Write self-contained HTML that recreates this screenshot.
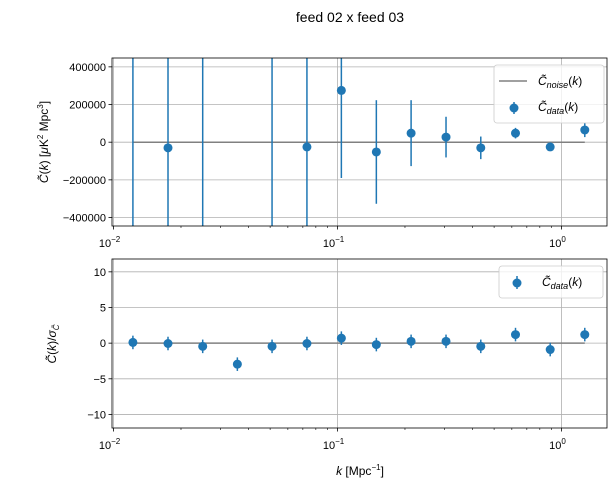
<!DOCTYPE html>
<html><head><meta charset="utf-8"><style>
html,body{margin:0;background:#fff;width:616px;height:493px;overflow:hidden}
svg{display:block;font-family:"Liberation Sans","DejaVu Sans",sans-serif}
</style></head><body>
<svg id="fig" width="616" height="493" viewBox="0 0 616 493" xmlns="http://www.w3.org/2000/svg">
<text x="350" y="22" font-size="14" text-anchor="middle">feed 02 x feed 03</text>
<g id="topPanel"></g>
<g id="botPanel"></g>
<text transform="translate(48,142) rotate(-90)" font-size="12" text-anchor="middle"><tspan font-style="italic">C̃</tspan>(<tspan font-style="italic">k</tspan>) [<tspan font-style="italic">μ</tspan>K<tspan font-size="8" dy="-5">2</tspan><tspan dy="5"> Mpc</tspan><tspan font-size="8" dy="-5">3</tspan><tspan dy="5">]</tspan></text>
<text transform="translate(56,344) rotate(-90)" font-size="12" text-anchor="middle"><tspan font-style="italic">C̃</tspan>(<tspan font-style="italic">k</tspan>)/<tspan font-style="italic">σ</tspan><tspan font-size="8" dy="3" font-style="italic">C̃</tspan></text>
<text x="360" y="475" font-size="12" text-anchor="middle"><tspan font-style="italic">k</tspan> [Mpc<tspan font-size="8" dy="-5">−1</tspan><tspan dy="5">]</tspan></text>
</svg>
<script>
const kVals=[0.0122,0.0175,0.025,0.0357,0.051,0.073,0.104,0.149,0.213,0.305,0.436,0.623,0.89,1.27];
const topVals=[1500000,-30000,1500000,2000000,1500000,-25000,275000,-52000,48000,27000,-30000,48000,-25000,65000];
const topErr=[5000000,5000000,5000000,100000,5000000,5000000,465000,275000,175000,108000,60000,28000,8000,38000];
const botVals=[0.1,-0.05,-0.45,-2.95,-0.45,-0.05,0.7,-0.2,0.25,0.25,-0.45,1.2,-0.9,1.2];
const botErr=[0.95,0.95,0.95,0.95,0.95,0.95,0.95,0.95,0.95,0.95,0.95,0.95,0.95,0.95];
const topTicks=[400000,200000,0,-200000,-400000];
const botTicks=[10,5,0,-5,-10];
const NS="http://www.w3.org/2000/svg";
const X0=112,X1=607,LMIN=-2.007,LMAX=0.203;
const xs=k=>X0+(Math.log10(k)-LMIN)/(LMAX-LMIN)*(X1-X0);
function mk(p,t,a){const e=document.createElementNS(NS,t);for(const k in a)e.setAttribute(k,a[k]);p.appendChild(e);return e;}
function panel(g,Y0,Y1,ymin,ymax,vals,errs,ticks,noise,pfx){
 const ys=v=>Y1-(v-ymin)/(ymax-ymin)*(Y1-Y0);
 const cp=mk(g,'clipPath',{id:pfx+'clip'});mk(cp,'rect',{x:X0,y:Y0,width:X1-X0,height:Y1-Y0});
 ticks.forEach(t=>{const l=mk(g,'line',{x1:X0,x2:X1,y1:ys(t),y2:ys(t),stroke:'#b0b0b0','stroke-width':0.8});
 
 
 mk(g,'line',{x1:X0-3.5,x2:X0,y1:ys(t),y2:ys(t),stroke:'#000','stroke-width':0.8});
 const tx=mk(g,'text',{x:X0-6,y:ys(t)+4,'font-size':11,'text-anchor':'end'});tx.textContent=String(t).replace('-','−');
 
 });
 [-2,-1,0].forEach(d=>{const x=xs(Math.pow(10,d));mk(g,'line',{x1:x,x2:x,y1:Y0,y2:Y1,stroke:'#b0b0b0','stroke-width':0.8});
  mk(g,'line',{x1:x,x2:x,y1:Y1,y2:Y1+3.5,stroke:'#000','stroke-width':0.8});
  const tx=mk(g,'text',{x:x-4,y:Y1+21,'font-size':11,'text-anchor':'middle'});tx.innerHTML='10<tspan font-size="8" dy="-5">'+(d<0?'−'+(-d):'0')+'</tspan>';
  
  });
 for(let d=-3;d<=0;d++)for(let m=2;m<10;m++){const x=xs(m*Math.pow(10,d));if(x>X0&&x<X1)mk(g,'line',{x1:x,x2:x,y1:Y1,y2:Y1+2,stroke:'#000','stroke-width':0.6});}
 const n=mk(g,'line',{x1:xs(kVals[0]),x2:xs(kVals[kVals.length-1]),y1:ys(0),y2:ys(0),stroke:'#808080','stroke-width':1.5});
 
 
 const dg=mk(g,'g',{'clip-path':'url(#'+pfx+'clip)'});
 kVals.forEach((k,i)=>{const x=xs(k);
  const eb=mk(dg,'line',{x1:x,x2:x,y1:ys(vals[i]+errs[i]),y2:ys(vals[i]-errs[i]),stroke:'#1f77b4','stroke-width':1.5});
  
  
  const c=mk(dg,'circle',{cx:x,cy:ys(vals[i]),r:4.5,fill:'#1f77b4'});
  
  });
 mk(g,'rect',{x:X0,y:Y0,width:X1-X0,height:Y1-Y0,fill:'none',stroke:'#000','stroke-width':0.8});
}
const topG=document.getElementById('topPanel'),botG=document.getElementById('botPanel');
panel(topG,58,226,-445000,447000,topVals,topErr,topTicks,true,'t');
panel(botG,259,428,-11.9,11.8,botVals,botErr,botTicks,false,'b');
const l1=mk(topG,'g',{});


mk(l1,'rect',{x:494,y:65,width:110,height:58,rx:3,fill:'#fff','fill-opacity':0.8,stroke:'#ccc','stroke-width':0.8});
mk(l1,'line',{x1:499,x2:527,y1:81,y2:81,stroke:'#808080','stroke-width':1.5});
mk(l1,'text',{x:538,y:85,'font-size':12}).innerHTML='<tspan font-style="italic">C̃</tspan><tspan font-size="9" dy="3" font-style="italic">noise</tspan><tspan dy="-3">(</tspan><tspan font-style="italic">k</tspan>)';
mk(l1,'line',{x1:514,x2:514,y1:102,y2:114,stroke:'#1f77b4','stroke-width':1.5});
mk(l1,'circle',{cx:514,cy:108,r:4.5,fill:'#1f77b4'});
mk(l1,'text',{x:538,y:111,'font-size':12}).innerHTML='<tspan font-style="italic">C̃</tspan><tspan font-size="9" dy="3" font-style="italic">data</tspan><tspan dy="-3">(</tspan><tspan font-style="italic">k</tspan>)';
const l2=mk(botG,'g',{});


mk(l2,'rect',{x:499,y:266,width:104,height:32,rx:3,fill:'#fff','fill-opacity':0.8,stroke:'#ccc','stroke-width':0.8});
mk(l2,'line',{x1:517,x2:517,y1:276,y2:289,stroke:'#1f77b4','stroke-width':1.5});
mk(l2,'circle',{cx:517,cy:283,r:4.5,fill:'#1f77b4'});
mk(l2,'text',{x:542,y:286,'font-size':12}).innerHTML='<tspan font-style="italic">C̃</tspan><tspan font-size="9" dy="3" font-style="italic">data</tspan><tspan dy="-3">(</tspan><tspan font-style="italic">k</tspan>)';
</script>
</body></html>
